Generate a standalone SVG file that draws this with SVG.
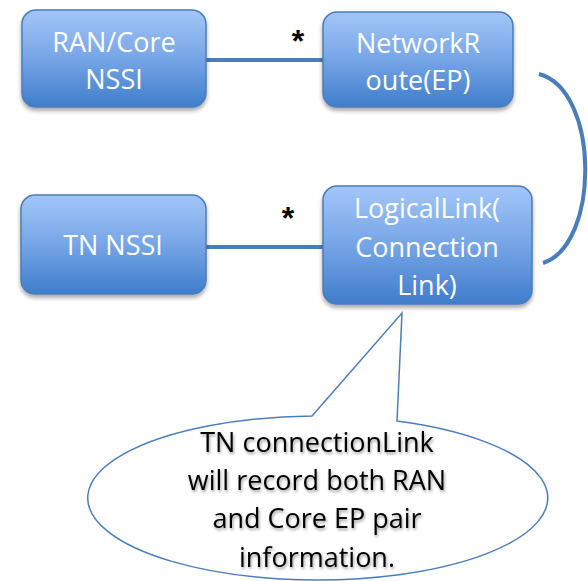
<svg xmlns="http://www.w3.org/2000/svg" width="588" height="581" viewBox="0 0 588 581">
<defs>
<linearGradient id="g" x1="0" y1="0" x2="0" y2="1">
<stop offset="0" stop-color="#a3c6f8"/>
<stop offset="0.5" stop-color="#76a5e6"/>
<stop offset="1" stop-color="#3f7dcb"/>
</linearGradient>
<filter id="sh" x="-10%" y="-10%" width="130%" height="140%">
<feGaussianBlur in="SourceAlpha" stdDeviation="2"/>
<feOffset dx="0" dy="3" result="b"/>
<feComponentTransfer><feFuncA type="linear" slope="0.35"/></feComponentTransfer>
<feMerge><feMergeNode/><feMergeNode in="SourceGraphic"/></feMerge>
</filter>
<filter id="tsh" x="-10%" y="-20%" width="120%" height="150%">
<feGaussianBlur in="SourceAlpha" stdDeviation="1.5"/>
<feOffset dx="1" dy="2"/>
<feComponentTransfer><feFuncA type="linear" slope="0.4"/></feComponentTransfer>
<feMerge><feMergeNode/><feMergeNode in="SourceGraphic"/></feMerge>
</filter>
</defs>
<style>
.box{fill:url(#g);stroke:#4a7ebb;stroke-width:1.5;filter:url(#sh)}
.lbl{font-family:"Open Sans","Liberation Sans",sans-serif;font-size:27px;fill:#fff;text-anchor:middle}
.con{fill:none;stroke:#4a7ebb;stroke-width:4}
.star{font-family:"Liberation Sans",sans-serif;font-size:32px;font-weight:bold;fill:#000;text-anchor:middle}
.note{font-family:"Open Sans","Liberation Sans",sans-serif;font-size:27px;fill:#000;text-anchor:middle;filter:url(#tsh)}
</style>
<g id="connectors">
<line class="con" x1="206" y1="60" x2="324" y2="60"/>
<line class="con" x1="206" y1="247" x2="324" y2="247"/>
<path class="con" d="M539,74 C600,90 600,245 543,263"/>
<text class="star" x="298" y="52">*</text>
<text class="star" x="288" y="229">*</text>
</g>
<g id="ran-core-nssi">
<rect class="box" x="22" y="10" width="184" height="97" rx="14"/>
<text class="lbl" x="114" y="52">RAN/Core</text>
<text class="lbl" x="114" y="89">NSSI</text>
</g>
<g id="network-route">
<rect class="box" x="323" y="12" width="190" height="95" rx="14"/>
<text class="lbl" x="418" y="53">NetworkR</text>
<text class="lbl" x="418" y="90">oute(EP)</text>
</g>
<g id="tn-nssi">
<rect class="box" x="21" y="195" width="185" height="99" rx="14"/>
<text class="lbl" x="113" y="255">TN NSSI</text>
</g>
<g id="logical-link">
<rect class="box" x="323" y="186" width="209" height="118" rx="14"/>
<text class="lbl" x="427" y="218">LogicalLink(</text>
<text class="lbl" x="427" y="257">Connection</text>
<text class="lbl" x="427" y="295">Link)</text>
</g>
<g id="callout">
<path d="M312,416 L402,313 L397,421 A230,82 0 1,1 312,416 Z" fill="#fff" stroke="#4a7ebb" stroke-width="1.5"/>
<text class="note" x="317" y="452">TN connectionLink</text>
<text class="note" x="317" y="490">will record both RAN</text>
<text class="note" x="317" y="528">and Core EP pair</text>
<text class="note" x="317" y="567">information.</text>
</g>
</svg>
